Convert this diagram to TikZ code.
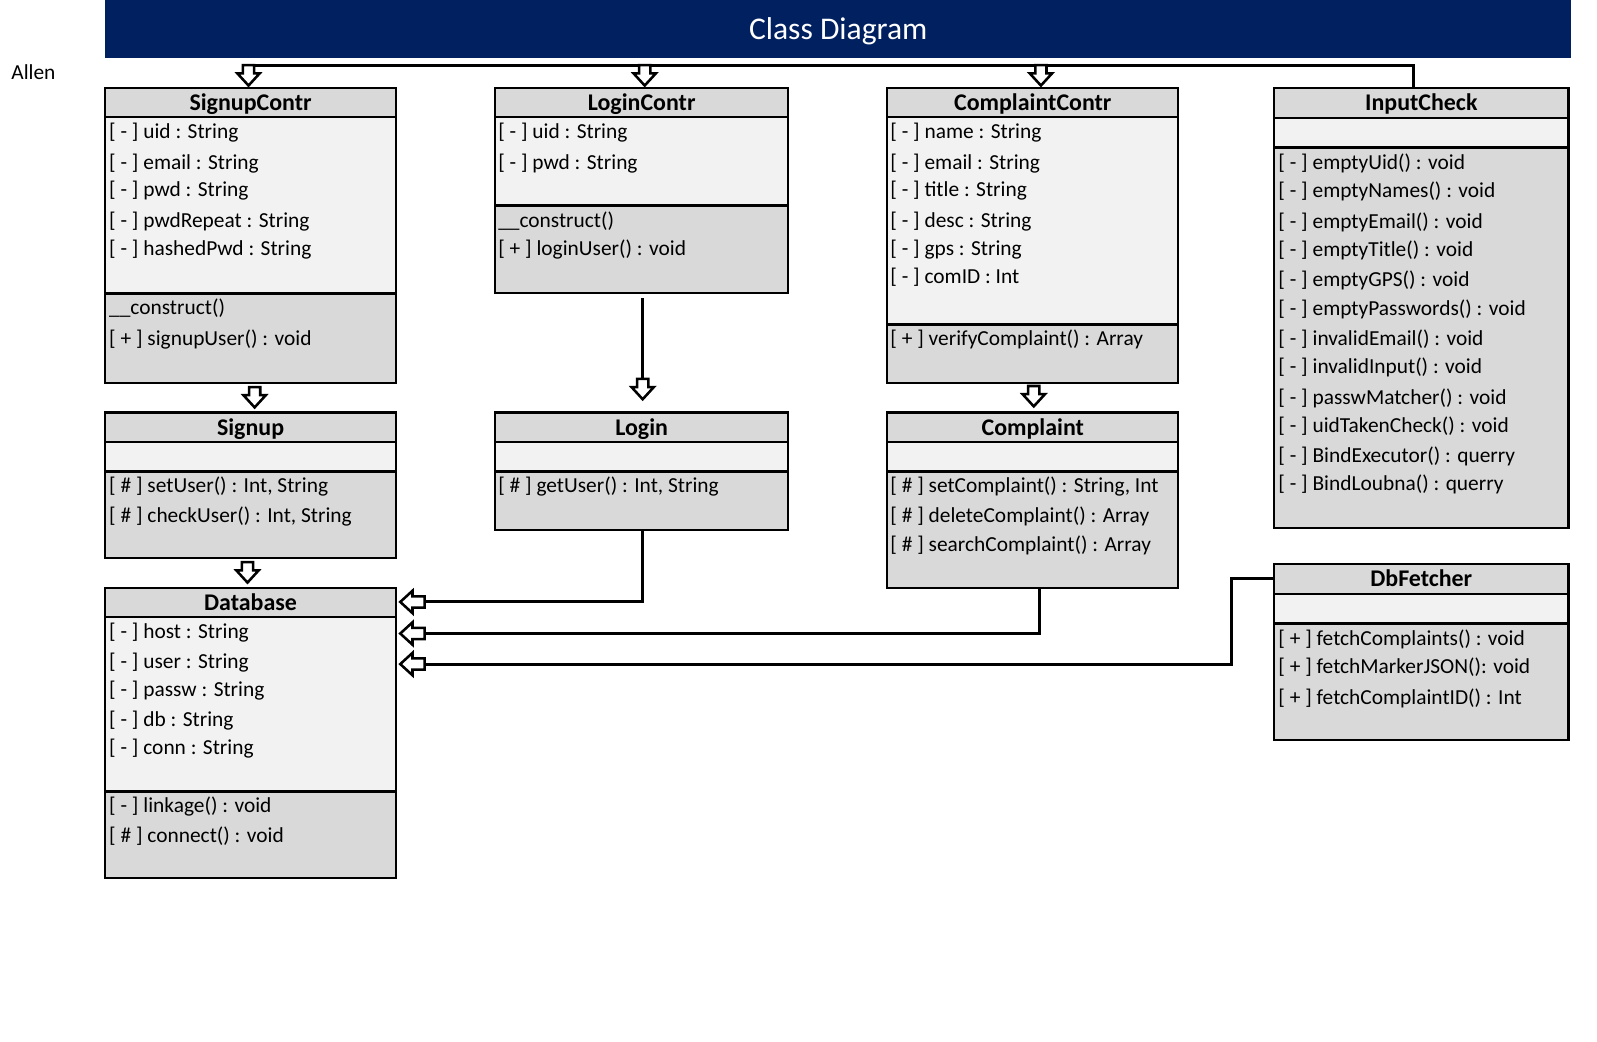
\documentclass[tikz,border=0pt]{standalone}
\usepackage{fontspec}
\setmainfont{Carlito}
\usetikzlibrary{calc}
\definecolor{navy}{RGB}{0,32,96}
\definecolor{hdrgray}{RGB}{217,217,217}
\definecolor{attrgray}{RGB}{242,242,242}
\tikzset{
  classbox/.style={draw=black, line width=2pt, inner sep=0pt, rectangle},
  hdrtxt/.style={anchor=base, inner sep=0pt, font=\fontsize{23.5}{28}\selectfont\bfseries},
  rowtxt/.style={anchor=base west, inner sep=0pt, font=\fontsize{21}{25}\selectfont},
  conn/.style={draw=black, line width=3pt},
  blockarr/.style={draw=black, line width=2.5pt, fill=white, line join=miter},
}
\newcommand\umlclass[8]{%
  \fill[hdrgray] (#2,#4) rectangle (#3,#5);
  \fill[attrgray] (#2,#5) rectangle (#3,#6);
  \fill[hdrgray] (#2,#6) rectangle (#3,#7);
  \draw[line width=2pt] (#2,#5) -- (#3,#5);
  \draw[line width=3pt] (#2,#6) -- (#3,#6);
  \node[classbox, minimum width={#3-#2}, minimum height={#7-#4}] (#1) at ({(#2+#3)/2},{(#4+#5)/2*0+(#4+#7)/2}) {};
  \node[hdrtxt] (#1-t) at ({(#2+#3)/2},{(#4+#5)/2+7.6}) {#8};
}
\newcommand\mrow[4]{\node[rowtxt] (#1) at (#2,{#3+7}) {#4};}
\newcommand\arrdown[2]{\draw[blockarr] (#1,#2) -- ++(-11,-12) -- ++(5.5,0) -- ++(0,-8) -- ++(11,0) -- ++(0,8) -- ++(5.5,0) -- cycle;}
\newcommand\arrleft[2]{\draw[blockarr] (#1,#2) -- ++(12,-11) -- ++(0,5.5) -- ++(12,0) -- ++(0,11) -- ++(-12,0) -- ++(0,5.5) -- cycle;}
\begin{document}
\begin{tikzpicture}[x=1pt,y=-1pt]
\useasboundingbox (0,0) rectangle (1568,1023);
\fill[white] (0,0) rectangle (1568,1023);
% title bar
\fill[navy] (103,0) rectangle (1542,57);
\node[anchor=base, inner sep=0pt, text=white, font=\fontsize{31}{36}\selectfont] (title) at (823,39) {Class Diagram};
\node[anchor=base west, inner sep=0pt, font=\fontsize{21}{25}\selectfont] (allen) at (11,78) {Allen};

% classes
\umlclass{sc}{103}{389}{86}{115}{288}{376}{SignupContr}
\mrow{sc1}{107}{129}{[ - ] uid : String}
\mrow{sc2}{107}{159}{[ - ] email : String}
\mrow{sc3}{107}{186}{[ - ] pwd : String}
\mrow{sc4}{107}{216}{[ - ] pwdRepeat : String}
\mrow{sc5}{107}{244}{[ - ] hashedPwd : String}
\mrow{sc6}{107}{302}{\_\_construct()}
\mrow{sc7}{107}{332}{[ + ] signupUser() : void}

\umlclass{lc}{486}{774}{86}{115}{202}{288}{LoginContr}
\mrow{lc1}{489}{129}{[ - ] uid : String}
\mrow{lc2}{489}{159}{[ - ] pwd : String}
\mrow{lc3}{489}{216}{\_\_construct()}
\mrow{lc4}{489}{244}{[ + ] loginUser() : void}

\umlclass{cc}{871}{1157}{86}{115}{319}{376}{ComplaintContr}
\mrow{cc1}{874}{129}{[ - ] name : String}
\mrow{cc2}{874}{159}{[ - ] email : String}
\mrow{cc3}{874}{186}{[ - ] title : String}
\mrow{cc4}{874}{216}{[ - ] desc : String}
\mrow{cc5}{874}{244}{[ - ] gps : String}
\mrow{cc6}{874}{271}{[ - ] comID : Int}
\mrow{cc7}{874}{332}{[ + ] verifyComplaint() : Array}

\umlclass{ic}{1251}{1540}{86}{116}{145}{518}{InputCheck}
\mrow{ic1}{1255}{159}{[ - ] emptyUid() : void}
\mrow{ic2}{1255}{187}{[ - ] emptyNames() : void}
\mrow{ic3}{1255}{217}{[ - ] emptyEmail() : void}
\mrow{ic4}{1255}{245}{[ - ] emptyTitle() : void}
\mrow{ic5}{1255}{274}{[ - ] emptyGPS() : void}
\mrow{ic6}{1255}{303}{[ - ] emptyPasswords() : void}
\mrow{ic7}{1255}{332}{[ - ] invalidEmail() : void}
\mrow{ic8}{1255}{360}{[ - ] invalidInput() : void}
\mrow{ic9}{1255}{390}{[ - ] passwMatcher() : void}
\mrow{ic10}{1255}{418}{[ - ] uidTakenCheck() : void}
\mrow{ic11}{1255}{447}{[ - ] BindExecutor() : querry}
\mrow{ic12}{1255}{475}{[ - ] BindLoubna() : querry}

\umlclass{su}{103}{389}{405}{434}{463}{548}{Signup}
\mrow{su1}{107}{477}{[ \# ] setUser() : Int, String}
\mrow{su2}{107}{506}{[ \# ] checkUser() : Int, String}

\umlclass{lg}{486}{774}{405}{434}{463}{520}{Login}
\mrow{lg1}{489}{477}{[ \# ] getUser() : Int, String}

\umlclass{cp}{871}{1157}{405}{434}{463}{577}{Complaint}
\mrow{cp1}{874}{477}{[ \# ] setComplaint() : String, Int}
\mrow{cp2}{874}{506}{[ \# ] deleteComplaint() : Array}
\mrow{cp3}{874}{534}{[ \# ] searchComplaint() : Array}

\umlclass{db}{103}{389}{577}{606}{777}{862}{Database}
\mrow{db1}{107}{620}{[ - ] host : String}
\mrow{db2}{107}{649}{[ - ] user : String}
\mrow{db3}{107}{677}{[ - ] passw : String}
\mrow{db4}{107}{706}{[ - ] db : String}
\mrow{db5}{107}{734}{[ - ] conn : String}
\mrow{db6}{107}{791}{[ - ] linkage() : void}
\mrow{db7}{107}{820}{[ \# ] connect() : void}

\umlclass{dbf}{1251}{1540}{554}{583}{612}{727}{DbFetcher}
\mrow{dbf1}{1255}{627}{[ + ] fetchComplaints() : void}
\mrow{dbf2}{1255}{654}{[ + ] fetchMarkerJSON(): void}
\mrow{dbf3}{1255}{685}{[ + ] fetchComplaintID() : Int}

% connectors
\coordinate (topR) at (1388,64);
\coordinate (topL) at (242,64);
\draw[conn] (ic.north -| topR) -- (topR) -- (topL);
\arrdown{244}{84}
\arrdown{633}{84}
\arrdown{1022}{84}

\arrdown{250}{400}
\arrdown{243}{572}
\arrdown{1015}{399}

\coordinate (lgin) at (631,372);
\draw[conn] ($(lc.south)+(1,4)$) -- (lgin);
\arrdown{631}{392}

\coordinate (dbin1) at (417,591);
\coordinate (dbin2) at (417,622);
\coordinate (dbin3) at (417,652);
\draw[conn] ($(lg.south)+(1,0)$) |- (dbin1);
\draw[conn] ($(cp.south)+(7,0)$) |- (dbin2);
\draw[conn] ($(dbf.north west)+(0,15)$) -- ++(-41,0) |- (dbin3);
\arrleft{393}{591}
\arrleft{393}{622}
\arrleft{393}{652}
\end{tikzpicture}
\end{document}
